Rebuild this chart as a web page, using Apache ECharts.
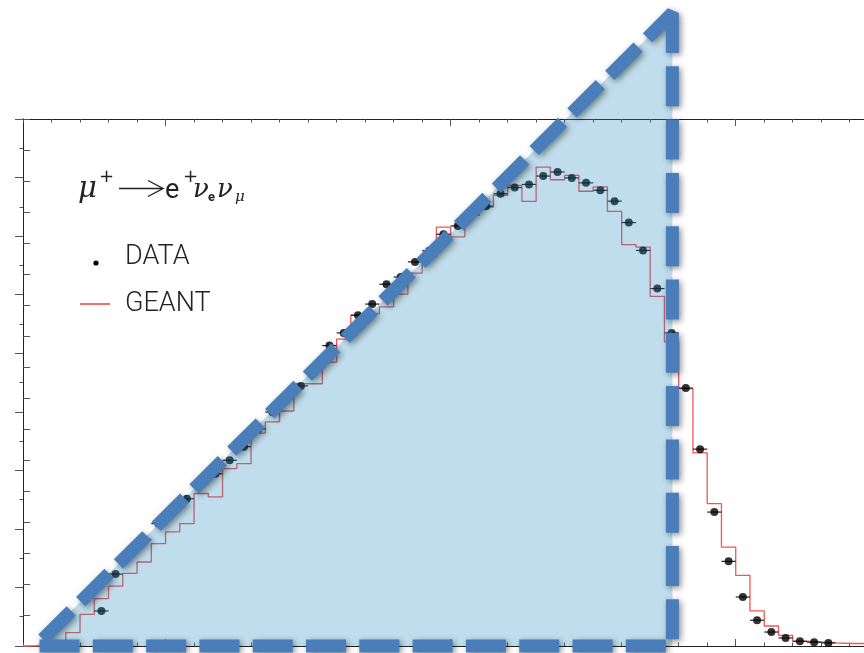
<!DOCTYPE html>
<html>
<head>
<meta charset="utf-8">
<script src="https://cdn.jsdelivr.net/npm/echarts@6/dist/echarts.min.js"></script>
<style>
  html, body { margin: 0; padding: 0; background: #ffffff; }
  #chart { width: 864px; height: 653px; }
</style>
</head>
<body>
<div id="chart"></div>
<script>
// Positron spectrum, one unit per histogram bin (bin j spans [j, j+1]).
const binCount = 59;

// Measured spectrum: first bin that carries a data point, then one value per bin.
const dataFirstBin = 5;
const dataValues = [
  1.13, 2.32, 3.05, 3.44, 3.95, 4.40, 4.75, 5.25, 5.56, 5.99,
  6.43, 7.00, 7.55, 8.00, 8.39, 9.00, 9.69, 10.10, 10.67, 11.03,
  11.67, 11.90, 12.39, 12.75, 13.28, 13.55, 13.95, 14.19, 14.59, 14.79,
  14.89, 15.16, 15.29, 15.10, 14.94, 14.70, 14.35, 13.66, 12.76, 11.53,
  10.10, 8.32, 6.35, 4.32, 2.73, 1.58, 0.83, 0.45, 0.26, 0.15,
  0.12, 0.10
];

// GEANT simulation, one value per bin from bin 0.
const geantValues = [
  0, 0, 0, 0.43, 1.02, 1.53, 1.93, 2.34, 2.71, 3.30,
  3.68, 3.95, 4.92, 4.81, 5.72, 5.88, 6.87, 7.23, 7.58, 8.46,
  8.46, 9.16, 9.90, 10.67, 10.72, 10.94, 11.35, 12.03, 12.55, 13.51,
  13.20, 13.89, 14.16, 14.54, 14.86, 14.34, 15.45, 15.04, 15.18, 14.67,
  14.81, 14.02, 12.95, 12.87, 11.28, 9.81, 8.30, 6.23, 4.59, 3.19,
  2.28, 1.13, 0.645, 0.345, 0.16, 0.13, 0.10, 0.08, 0.08
];

// Axis tick layout (in bin / count units).
const xMinorStep = 2;
const xMajorTicks = [10, 30, 50];
const yMax = 17;

// Highlight triangle, in data units: apex, lower right, lower left.
const triangleVertices = [[45.56, 20.42], [45.56, 0], [0.91, 0]];

const dataPoints = dataValues.map((v, i) => [dataFirstBin + i + 0.5, v]);
const geantLine = geantValues.map((v, i) => [i, v]);
geantLine.push([binCount, geantValues[geantValues.length - 1]]);

const frameColor = '#222';
const tickColor = '#555';

function xAxisDef(position, major) {
  return {
    type: 'value', position: position, min: 0, max: binCount,
    interval: xMinorStep,
    axisLine: { show: !major, lineStyle: { color: frameColor, width: 1 } },
    axisTick: major
      ? { show: true, inside: true, length: 7, customValues: xMajorTicks, lineStyle: { color: tickColor } }
      : { show: true, inside: true, length: 3.5, lineStyle: { color: tickColor } },
    axisLabel: { show: false },
    splitLine: { show: false }
  };
}

const chart = echarts.init(document.getElementById('chart'), null, { renderer: 'canvas' });

chart.setOption({
  animation: false,
  backgroundColor: '#ffffff',
  grid: { left: 23, top: 119, width: 843, height: 527, containLabel: false },
  xAxis: [
    xAxisDef('bottom', false),
    xAxisDef('bottom', true),
    xAxisDef('top', false),
    xAxisDef('top', true)
  ],
  yAxis: [
    {
      type: 'value', position: 'left', min: 0, max: yMax, interval: 1,
      axisLine: { show: true, lineStyle: { color: frameColor, width: 1 } },
      axisTick: { show: true, inside: true, length: 7, lineStyle: { color: tickColor } },
      axisLabel: { show: false },
      splitLine: { show: false }
    },
    {
      type: 'value', position: 'right', min: 0, max: yMax + 1, interval: 2,
      axisLine: { show: true, lineStyle: { color: frameColor, width: 1 } },
      axisTick: { show: true, inside: true, length: 8, lineStyle: { color: tickColor } },
      minorTick: { show: true, splitNumber: 2, length: 3.5, lineStyle: { color: tickColor } },
      axisLabel: { show: false },
      splitLine: { show: false }
    }
  ],
  series: [
    {
      name: 'GEANT', type: 'line', step: 'end',
      xAxisIndex: 0, yAxisIndex: 0,
      data: geantLine,
      showSymbol: false, symbol: 'none',
      lineStyle: { color: '#f25555', width: 1.3 },
      z: 2
    },
    {
      name: 'DATA errors', type: 'custom',
      xAxisIndex: 0, yAxisIndex: 0,
      data: dataPoints,
      renderItem: function (params, api) {
        const x = api.value(0), y = api.value(1);
        const a = api.coord([x - 0.5, y]);
        const b = api.coord([x + 0.5, y]);
        return {
          type: 'line',
          shape: { x1: a[0], y1: a[1], x2: b[0], y2: b[1] },
          style: { stroke: '#222', lineWidth: 1.2 }
        };
      },
      z: 3
    },
    {
      name: 'DATA', type: 'scatter',
      xAxisIndex: 0, yAxisIndex: 0,
      data: dataPoints,
      symbol: 'circle', symbolSize: 8,
      itemStyle: { color: '#000' },
      z: 4
    }
  ]
});

const tri = triangleVertices.map(p => chart.convertToPixel({ xAxisIndex: 0, yAxisIndex: 0 }, p));

const textColor = '#222';
const serifItalic = 'italic 26px "DejaVu Serif", serif';

function label(x, y, text, font) {
  return {
    type: 'text', z: 50, x: x, y: y, silent: true,
    style: { text: text, font: font, fill: textColor, align: 'left', verticalAlign: 'middle' }
  };
}

chart.setOption({
  graphic: [
    {
      type: 'polygon', z: 100, silent: true,
      shape: { points: tri },
      style: { fill: 'rgba(34,138,190,0.29)', stroke: null }
    },
    {
      type: 'polygon', z: 101, silent: true,
      shape: { points: tri },
      style: {
        fill: null, stroke: '#4a7ebb', lineWidth: 13,
        lineDash: [40, 13.3], lineJoin: 'bevel',
        shadowBlur: 6, shadowColor: 'rgba(0,0,0,0.45)',
        shadowOffsetX: 2, shadowOffsetY: 2
      }
    },
    // decay formula  μ+ → e+ νe νμ
    label(78, 189, 'μ', 'italic 29px "DejaVu Serif", serif'),
    label(99, 177.5, '+', '18px "DejaVu Sans", sans-serif'),
    {
      type: 'polyline', z: 50, silent: true,
      shape: { points: [[119, 188.5], [162.5, 188.5]] },
      style: { stroke: textColor, lineWidth: 1.4, fill: null }
    },
    {
      type: 'polyline', z: 50, silent: true,
      shape: { points: [[148, 180.5], [163, 188.5], [148, 196.5]] },
      style: { stroke: textColor, lineWidth: 1.4, fill: null }
    },
    label(165, 191, 'e', '27px Roboto, sans-serif'),
    label(183, 177.5, '+', '18px "DejaVu Sans", sans-serif'),
    label(193, 190, 'ν', serifItalic),
    label(208, 197.5, 'e', 'bold 13px Roboto, sans-serif'),
    label(217, 190, 'ν', serifItalic),
    label(235, 197, 'μ', 'italic 15px "DejaVu Serif", serif'),
    // legend
    { type: 'circle', z: 50, silent: true, shape: { cx: 96, cy: 263, r: 2.6 }, style: { fill: '#000' } },
    label(125, 257.5, 'DATA', '300 27px Roboto, sans-serif'),
    { type: 'line', z: 50, silent: true, shape: { x1: 80, y1: 304, x2: 110, y2: 304 }, style: { stroke: '#f03c3c', lineWidth: 1.5 } },
    label(125, 304, 'GEANT', '300 27px Roboto, sans-serif')
  ]
});
</script>
</body>
</html>
